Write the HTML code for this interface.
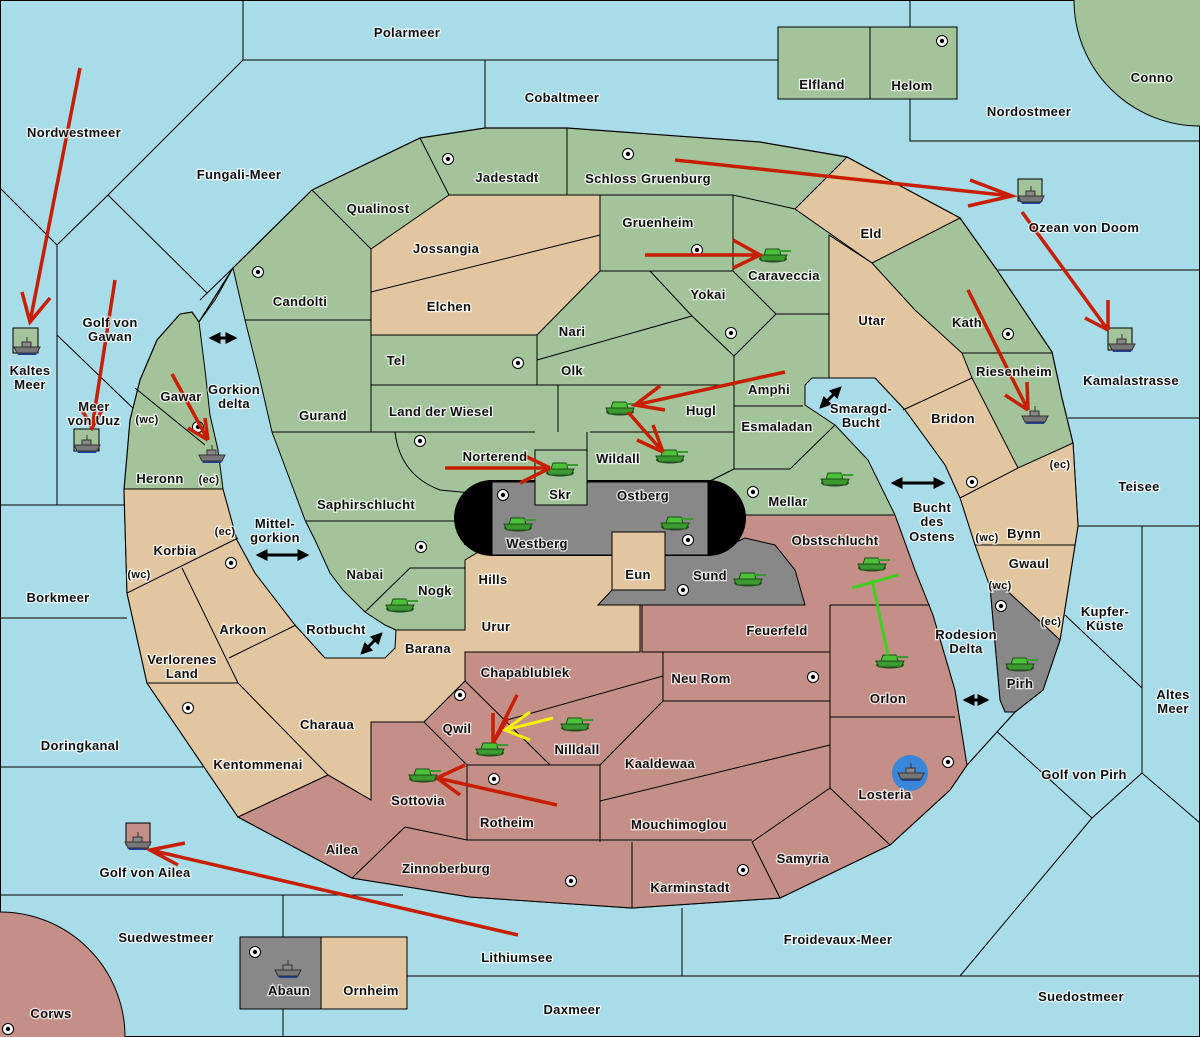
<!DOCTYPE html>
<html><head><meta charset="utf-8"><style>
html,body{margin:0;padding:0;background:#a8dce9;width:1200px;height:1037px;overflow:hidden;position:relative}
svg{display:block;position:absolute;left:0;top:0}
text{font-family:"Liberation Sans",sans-serif;font-weight:bold;font-size:13px;text-anchor:middle;fill:#111;paint-order:stroke;stroke:#fff;stroke-width:2.5px;stroke-opacity:.75;letter-spacing:.3px}
.s{font-size:11px}
</style></head><body>
<svg width="1200" height="1037" viewBox="0 0 1200 1037" xmlns="http://www.w3.org/2000/svg">
<defs>
<g id="tk"><ellipse cx="0" cy="5" rx="14" ry="3.5" fill="#2f4a2a"/><path d="M-14,1 L14,1 L11,7 L-11,7 Z" fill="#3a9a2f" stroke="#1d4d18" stroke-width="1"/><path d="M-7,-5 L6,-5 L8,1 L-9,1 Z" fill="#4cc23a" stroke="#1d4d18" stroke-width="1"/><rect x="6" y="-4" width="12" height="2" fill="#3a9a2f"/></g>
<g id="sh"><path d="M-12,0 L12,0 L9,6 L-9,6 Z" fill="#1f3f9a"/><path d="M-13,-2 L13,-2 L10,4 L-10,4 Z" fill="#777" stroke="#333" stroke-width="1"/><rect x="-5" y="-7" width="9" height="5" fill="#888" stroke="#333" stroke-width="1"/><line x1="0" y1="-12" x2="0" y2="-7" stroke="#333"/></g>
<g id="sc"><circle r="5.5" fill="#fff" stroke="#000" stroke-width="1"/><circle r="2.2" fill="#000"/></g>
<marker id="ar" viewBox="0 0 10 10" refX="8" refY="5" markerUnits="userSpaceOnUse" markerWidth="12" markerHeight="12" orient="auto-start-reverse"><path d="M0,0 L10,5 L0,10 Z" fill="#000"/></marker>
</defs>
<rect width="1200" height="1037" fill="#a8dce9" stroke="#000" stroke-width="2"/>
<g stroke="#000" stroke-width="1" fill="none">
<path d="M243,0 V60 H910 M485,60 V128 M910,0 V141 H1200 M243,60 L108,195 L57,245 M0,188 L57,245 V505 M108,195 L207,293 M233,268 L200,300 M57,335 L138,413 M0,505 H125 M0,618 H127 M0,767 H203 M0,895 H403 M283,895 V938 M283,1008 V1037 M682,908 V976 M407,976 H1200 M997,270 H1200 M1068,418 H1200 M1078,526 H1200 M1142,526 V773 M1065,615 L1142,688 M1142,773 L1092,818 M1142,773 L1200,823 M993,728 L1092,818 L960,976 M1012,710 L967,752 M933,620 H995 M870,463 H945 M210,415 H250 M255,573 H330"/>
</g>
<circle cx="1200" cy="0" r="126" fill="#a3c49a" stroke="#000"/>
<rect x="778" y="27" width="92" height="72" fill="#a3c49a" stroke="#000"/>
<rect x="870" y="27" width="87" height="72" fill="#a3c49a" stroke="#000"/>
<circle cx="0" cy="1037" r="125" fill="#c48f87" stroke="#000"/>
<rect x="240" y="937" width="81" height="72" fill="#888" stroke="#000"/>
<rect x="321" y="937" width="86" height="72" fill="#e2c69f" stroke="#000"/>

<path d="M312,190 L420,138 L485,128 L567,128 L760,142 L847,157 L893,182 L960,218 L997,270 L1052,352 L1062,398 L1073,443 L1078,526 L1075,545 L1060,640 L1043,690 L1015,712 L967,765 L950,790 L890,845 L780,898 L632,908 L470,897 L352,878 L238,817 L147,683 L127,593 L124,490 L130,420 L140,380 L157,340 L180,314 L192,312 L199,322 L233,268 Z" fill="#a3c49a" stroke="#000" stroke-width="1.2"/>
<g fill="#e2c69f" stroke="#000" stroke-width="1">
<path d="M371,249 L449,195 L600,195 L600,271 L537,335 L371,335 Z"/>
<path d="M795,209 L847,157 L893,182 L960,218 L872,263 Z"/>
<path d="M829,235 L872,263 L915,310 L962,353 L972,378 L1018,468 L1073,443 L1078,526 L1075,545 L1060,640 L1003,587 L990,587 L975,545 L960,498 L945,465 L905,410 L875,378 L829,378 Z"/>
<path d="M124,489 L223,489 L237,540 L255,573 L295,625 L325,658 L371,658 L395,630 L465,630 L465,560 L490,545 L612,545 L612,532 L665,532 L665,590 L640,605 L640,652 L465,652 L465,681 L424,722 L371,722 L371,800 L328,775 L238,817 L147,683 L127,593 Z"/>
</g>
<path d="M708,515 L895,515 L915,570 L933,615 L955,690 L967,765 L950,790 L890,845 L780,898 L632,908 L470,897 L352,878 L238,817 L328,775 L371,800 L371,722 L424,722 L465,681 L465,652 L640,652 L640,605 L708,555 Z" fill="#c48f87" stroke="#000" stroke-width="1"/>
<path d="M598,605 L612,590 L665,590 L665,555 L708,555 L745,538 L775,545 L795,570 L805,605 Z" fill="#888" stroke="#000"/>
<path d="M990,587 L1003,587 L1060,640 L1043,690 L1015,712 L1005,712 L1000,700 Z" fill="#888" stroke="#000"/>
<path d="M492,480 L708,480 A38,38 0 0 1 708,556 L492,556 A38,38 0 0 1 492,480 Z" fill="#000"/>
<rect x="492" y="482" width="216" height="73" fill="#888" stroke="#000"/>
<rect x="535" y="450" width="52" height="55" fill="#a3c49a" stroke="#000"/>
<rect x="612" y="532" width="53" height="58" fill="#e2c69f" stroke="#000"/>
<path d="M199,322 L215,300 L233,268 L245,320 L260,380 L272,432 L290,480 L305,520 L315,540 L330,573 L343,590 L365,612 L385,625 L396,630 L395,648 L385,658 L325,658 L295,625 L255,573 L237,540 L223,489 L218,450 L210,415 L205,370 Z" fill="#a8dce9" stroke="#000"/>
<path d="M805,385 L812,378 L875,378 L905,410 L945,465 L960,498 L975,545 L990,587 L1000,700 L1005,712 L1015,712 L967,765 L955,690 L933,615 L915,570 L895,515 L868,460 L835,425 L805,405 Z" fill="#a8dce9" stroke="#000"/>
<g stroke="#000" stroke-width="1" fill="none">
<path d="M312,190 L371,249 V432 M420,138 L449,195 M567,128 V195 M371,292 L600,235 M245,320 H371 M371,385 H558 V432 M537,335 V385 M537,360 L692,316 M600,195 H733 V271 H600 M733,195 L795,209 M829,235 V378 M650,271 L692,316 L734,356 L776,314 L733,271 M776,314 H829 M734,356 V469 M558,385 H734 M590,432 H734 M734,406 H803 M734,469 H790 L835,425 M734,469 L708,482 M587,432 L587,450 M272,432 H535 M395,432 Q400,475 440,490 L492,495 M305,521 H455 M455,521 L465,545 M365,612 L410,568 H465 M962,353 H1052 M903,410 L972,378 M960,498 L1018,468 M975,545 H1075 M135,388 L205,445 M140,489 H223 M127,593 L238,538 M182,568 L238,683 M229,658 L296,625 M147,683 H238 L328,775 M371,722 V800 M465,652 V681 M465,681 L550,765 M424,722 L467,765 H600 M507,720 L663,676 M663,652 V701 H830 M642,605 V652 H830 M830,605 V788 M830,605 H930 M830,717 H955 M600,765 V842 M600,801 L830,745 M663,701 L600,765 M467,765 V840 M405,827 L467,840 H752 M405,827 L352,878 M632,842 V908 M752,842 L830,788 L890,845 M752,842 L780,898"/>
</g>

<g>
<use href="#sc" x="448" y="159"/><use href="#sc" x="628" y="154"/><use href="#sc" x="258" y="272"/><use href="#sc" x="697" y="250"/><use href="#sc" x="731" y="333"/><use href="#sc" x="518" y="363"/><use href="#sc" x="1008" y="334"/><use href="#sc" x="198" y="427"/><use href="#sc" x="420" y="441"/><use href="#sc" x="503" y="495"/><use href="#sc" x="753" y="492"/><use href="#sc" x="688" y="540"/><use href="#sc" x="421" y="547"/><use href="#sc" x="231" y="563"/><use href="#sc" x="683" y="590"/><use href="#sc" x="972" y="482"/><use href="#sc" x="1001" y="606"/><use href="#sc" x="813" y="677"/><use href="#sc" x="460" y="695"/><use href="#sc" x="188" y="708"/><use href="#sc" x="494" y="779"/><use href="#sc" x="948" y="762"/><use href="#sc" x="571" y="881"/><use href="#sc" x="743" y="870"/><use href="#sc" x="942" y="41"/><use href="#sc" x="255" y="952"/><use href="#sc" x="8" y="1029"/>
</g>

<rect x="13" y="328" width="25" height="25" fill="#a3c49a" stroke="#000"/>
<rect x="74" y="429" width="25" height="22" fill="#a3c49a" stroke="#000"/>
<rect x="1018" y="179" width="24" height="22" fill="#a3c49a" stroke="#000"/>
<rect x="1108" y="328" width="24" height="22" fill="#a3c49a" stroke="#000"/>
<rect x="126" y="823" width="24" height="22" fill="#c48f87" stroke="#000"/>
<circle cx="910" cy="773" r="18" fill="#3a86d8"/>
<use href="#sh" x="27" y="349"/><use href="#sh" x="87" y="447"/><use href="#sh" x="1031" y="198"/><use href="#sh" x="1122" y="346"/><use href="#sh" x="138" y="844"/><use href="#sh" x="1035" y="418"/><use href="#sh" x="212" y="457"/><use href="#sh" x="911" y="775"/><use href="#sh" x="288" y="972"/>
<g>
<use href="#tk" x="773" y="254"/><use href="#tk" x="620" y="407"/><use href="#tk" x="670" y="455"/><use href="#tk" x="560" y="468"/><use href="#tk" x="518" y="523"/><use href="#tk" x="675" y="522"/><use href="#tk" x="835" y="478"/><use href="#tk" x="748" y="578"/><use href="#tk" x="400" y="604"/><use href="#tk" x="872" y="563"/><use href="#tk" x="890" y="660"/><use href="#tk" x="1020" y="663"/><use href="#tk" x="575" y="723"/><use href="#tk" x="490" y="748"/><use href="#tk" x="423" y="774"/>
</g>

<g stroke="#c81e00" stroke-width="3.5" fill="none">
<path d="M80,68 L30,322 M22,292 L30,322 L50,298"/>
<path d="M115,280 L92,428 M82,410 L92,428 L102,410"/>
<path d="M172,374 L208,440 M205,418 L208,440 M188,428 L208,440"/>
<path d="M675,160 L1012,196 M970,180 L1012,196 L968,206"/>
<path d="M1022,212 L1108,330 M1108,300 L1108,330 M1085,318 L1108,330"/>
<path d="M968,290 L1028,410 M1027,382 L1028,410 M1005,395 L1028,410"/>
<path d="M645,255 L760,255 M733,240 L760,255 L733,268"/>
<path d="M785,372 L635,405 M660,386 L635,405 L665,410"/>
<path d="M628,412 L663,452 M653,425 L663,452 M637,440 L663,452"/>
<path d="M445,468 L550,468 M523,455 L550,468 M520,483 L550,468"/>
<path d="M517,695 L493,743 M493,713 V743 M508,718 L493,743"/>
<path d="M557,805 L437,778 M465,765 L437,778 M460,795 L437,778"/>
<path d="M518,935 L150,850 M185,843 L150,850 L178,865"/>
</g>
<path d="M553,718 L505,730 M530,712 L505,730 L530,740" stroke="#f5f000" stroke-width="3" fill="none"/>
<path d="M872,580 L888,655 M852,588 L898,575" stroke="#3fd020" stroke-width="3" fill="none"/>

<g stroke="#000" stroke-width="3" marker-start="url(#ar)" marker-end="url(#ar)">
<line x1="211" y1="338" x2="235" y2="338"/><line x1="258" y1="555" x2="307" y2="555"/><line x1="362" y1="653" x2="381" y2="634"/><line x1="821" y1="407" x2="840" y2="388"/><line x1="893" y1="483" x2="943" y2="483"/><line x1="965" y1="700" x2="987" y2="700"/>
</g>

<g>
<text x="407" y="37">Polarmeer</text><text x="562" y="102">Cobaltmeer</text><text x="822" y="89">Elfland</text><text x="912" y="90">Helom</text><text x="1152" y="82">Conno</text><text x="1029" y="116">Nordostmeer</text><text x="74" y="137">Nordwestmeer</text><text x="239" y="179">Fungali-Meer</text><text x="507" y="182">Jadestadt</text><text x="648" y="183">Schloss Gruenburg</text><text x="378" y="213">Qualinost</text><text x="1084" y="232">Ozean von Doom</text><text x="871" y="238">Eld</text><text x="658" y="227">Gruenheim</text><text x="446" y="253">Jossangia</text><text x="784" y="280">Caraveccia</text><text x="708" y="299">Yokai</text><text x="300" y="306">Candolti</text><text x="449" y="311">Elchen</text><text x="110" y="327">Golf von</text><text x="110" y="341">Gawan</text><text x="872" y="325">Utar</text><text x="967" y="327">Kath</text><text x="572" y="336">Nari</text><text x="30" y="375">Kaltes</text><text x="30" y="389">Meer</text><text x="396" y="365">Tel</text><text x="572" y="375">Olk</text><text x="1014" y="376">Riesenheim</text><text x="1131" y="385">Kamalastrasse</text><text x="181" y="401">Gawar</text><text x="234" y="394">Gorkion</text><text x="234" y="408">delta</text><text x="769" y="394">Amphi</text><text x="861" y="413">Smaragd-</text><text x="861" y="427">Bucht</text><text x="94" y="411">Meer</text><text x="94" y="425">von Uuz</text><text class="s" x="147" y="423">(wc)</text><text x="701" y="415">Hugl</text><text x="441" y="416">Land der Wiesel</text><text x="323" y="420">Gurand</text><text x="953" y="423">Bridon</text><text x="777" y="431">Esmaladan</text><text x="495" y="461">Norterend</text><text x="618" y="463">Wildall</text><text x="160" y="483">Heronn</text><text class="s" x="209" y="483">(ec)</text><text class="s" x="1060" y="468">(ec)</text><text x="1139" y="491">Teisee</text><text x="560" y="499">Skr</text><text x="643" y="500">Ostberg</text><text x="788" y="506">Mellar</text><text x="366" y="509">Saphirschlucht</text><text x="932" y="512">Bucht</text><text x="932" y="526">des</text><text x="932" y="541">Ostens</text><text x="275" y="528">Mittel-</text><text x="275" y="542">gorkion</text><text class="s" x="225" y="535">(ec)</text><text x="175" y="555">Korbia</text><text x="537" y="548">Westberg</text><text x="835" y="545">Obstschlucht</text><text class="s" x="987" y="541">(wc)</text><text x="1024" y="538">Bynn</text><text x="1029" y="568">Gwaul</text><text x="365" y="579">Nabai</text><text x="638" y="579">Eun</text><text x="493" y="584">Hills</text><text x="710" y="580">Sund</text><text class="s" x="139" y="578">(wc)</text><text class="s" x="1000" y="589">(wc)</text><text x="58" y="602">Borkmeer</text><text x="435" y="595">Nogk</text><text x="1105" y="616">Kupfer-</text><text x="1105" y="630">Küste</text><text class="s" x="1051" y="625">(ec)</text><text x="496" y="631">Urur</text><text x="336" y="634">Rotbucht</text><text x="777" y="635">Feuerfeld</text><text x="243" y="634">Arkoon</text><text x="966" y="639">Rodesion</text><text x="966" y="653">Delta</text><text x="428" y="653">Barana</text><text x="182" y="664">Verlorenes</text><text x="182" y="678">Land</text><text x="525" y="677">Chapablublek</text><text x="701" y="683">Neu Rom</text><text x="1020" y="688">Pirh</text><text x="888" y="703">Orlon</text><text x="1173" y="699">Altes</text><text x="1173" y="713">Meer</text><text x="457" y="733">Qwil</text><text x="327" y="729">Charaua</text><text x="577" y="754">Nilldall</text><text x="80" y="750">Doringkanal</text><text x="660" y="768">Kaaldewaa</text><text x="258" y="769">Kentommenai</text><text x="1084" y="779">Golf von Pirh</text><text x="885" y="799">Losteria</text><text x="418" y="805">Sottovia</text><text x="507" y="827">Rotheim</text><text x="679" y="829">Mouchimoglou</text><text x="342" y="854">Ailea</text><text x="803" y="863">Samyria</text><text x="446" y="873">Zinnoberburg</text><text x="145" y="877">Golf von Ailea</text><text x="690" y="892">Karminstadt</text><text x="166" y="942">Suedwestmeer</text><text x="838" y="944">Froidevaux-Meer</text><text x="517" y="962">Lithiumsee</text><text x="289" y="995">Abaun</text><text x="371" y="995">Ornheim</text><text x="1081" y="1001">Suedostmeer</text><text x="572" y="1014">Daxmeer</text><text x="51" y="1018">Corws</text>
</g>
</svg>
</body></html>
